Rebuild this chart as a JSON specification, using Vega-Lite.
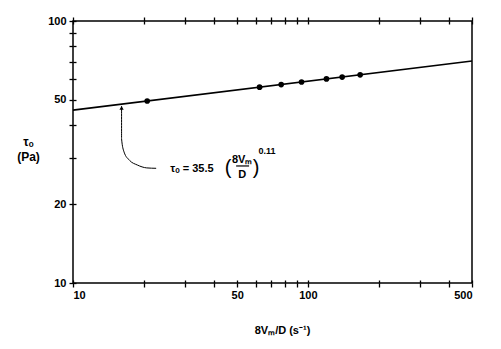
{
  "$schema": "https://vega.github.io/schema/vega-lite/v6.json",
  "width": 399,
  "height": 262,
  "autosize": "none",
  "padding": {"left": 73, "top": 21, "right": 29, "bottom": 66},
  "background": "white",
  "config": {
    "view": {"stroke": "black", "strokeWidth": 1.5},
    "axis": {"grid": false, "domain": false, "tickColor": "black", "tickWidth": 1.3, "labelFont": "Liberation Sans", "labelFontWeight": "bold", "labelFontSize": 11, "labelColor": "black", "titleFont": "Liberation Sans", "titleFontWeight": "bold", "titleColor": "black"},
    "text": {"font": "Liberation Sans", "fontWeight": "bold", "color": "black"}
  },
  "resolve": {"axis": {"x": "independent", "y": "independent"}},
  "layer": [
    {
      "data": {"values": [{"rate": 10, "tau": 45.7}, {"rate": 500, "tau": 70.4}]},
      "mark": {"type": "line", "color": "black", "strokeWidth": 1.6},
      "encoding": {
        "x": {"field": "rate", "type": "quantitative",
              "scale": {"type": "log", "domain": [10, 500], "nice": false},
              "axis": {"orient": "bottom", "values": [10,20,30,40,50,60,70,80,90,100,200,300,400,500], "tickSize": 4, "labelPadding": 2,
                       "labelExpr": "indexof([10,50,100,500], datum.value) >= 0 ? '' + datum.value : ''",
                       "title": "8Vₘ/D (s⁻¹)", "titleFontSize": 11, "titleX": 209, "titleY": 50, "titleAnchor": "middle", "titleAlign": "center", "titleBaseline": "alphabetic"}},
        "y": {"field": "tau", "type": "quantitative",
              "scale": {"type": "log", "domain": [10, 100], "nice": false},
              "axis": {"orient": "left", "values": [10,20,30,40,50,60,70,80,90,100], "tickSize": 4, "labelPadding": 3,
                       "labelExpr": "indexof([10,20,50,100], datum.value) >= 0 ? '' + datum.value : ''",
                       "title": ["τₒ", "(Pa)"], "titleFontSize": 12, "titleAngle": 0, "titleX": -45, "titleY": 115, "titleAlign": "center", "titleBaseline": "top", "titleLineHeight": 15}}
      }
    },
    {
      "data": {"values": [
        {"rate": 20.7, "tau": 49.5},
        {"rate": 62.3, "tau": 55.9},
        {"rate": 77, "tau": 57.2},
        {"rate": 94, "tau": 58.5},
        {"rate": 120, "tau": 60.1},
        {"rate": 140, "tau": 61.1},
        {"rate": 167, "tau": 62.3}
      ]},
      "mark": {"type": "point", "filled": true, "color": "black", "opacity": 1, "size": 32},
      "encoding": {
        "x": {"field": "rate", "type": "quantitative",
              "axis": {"orient": "top", "values": [10,20,30,40,50,60,70,80,90,100,200,300,400,500], "tickSize": 4, "labels": false, "title": null}},
        "y": {"field": "tau", "type": "quantitative",
              "axis": {"orient": "left", "values": [10,20,30,40,50,60,70,80,90,100], "tickSize": -3, "labels": false, "title": null}}
      }
    },
    {
      "data": {"values": [
        {"i": 1, "rate": 16.1, "tau": 47.4},
        {"i": 2, "rate": 16.1, "tau": 35.5},
        {"i": 3, "rate": 16.5, "tau": 31.6},
        {"i": 4, "rate": 17.4, "tau": 29.4},
        {"i": 5, "rate": 18.8, "tau": 28.2},
        {"i": 6, "rate": 20.6, "tau": 27.5},
        {"i": 7, "rate": 22.6, "tau": 27.4}
      ]},
      "mark": {"type": "line", "color": "black", "strokeWidth": 1, "interpolate": "monotone"},
      "encoding": {
        "x": {"field": "rate", "type": "quantitative",
              "axis": {"orient": "bottom", "values": [10,20,30,40,50,60,70,80,90,100,200,300,400,500], "tickSize": -3, "labels": false, "title": null}},
        "y": {"field": "tau", "type": "quantitative", "axis": null},
        "order": {"field": "i", "type": "quantitative"}
      }
    },
    {
      "data": {"values": [
        {"rate": 32.1, "tau": 27.35, "label": "τₒ = 35.5"},
        {"rate": 52.5, "tau": 29.5, "label": "8Vₘ"},
        {"rate": 52.5, "tau": 25.8, "label": "D"}
      ]},
      "mark": {"type": "text", "fontSize": 11, "align": "center", "baseline": "middle"},
      "encoding": {
        "x": {"field": "rate", "type": "quantitative",
              "axis": {"orient": "top", "values": [10,20,30,40,50,60,70,80,90,100,200,300,400,500], "tickSize": -3, "labels": false, "title": null}},
        "y": {"field": "tau", "type": "quantitative", "axis": null},
        "text": {"field": "label"}
      }
    },
    {
      "data": {"values": [{"rate": 16.1, "tau": 46.6}]},
      "mark": {"type": "point", "shape": "triangle-up", "filled": true, "color": "black", "opacity": 1, "size": 18},
      "encoding": {
        "x": {"field": "rate", "type": "quantitative", "axis": null},
        "y": {"field": "tau", "type": "quantitative", "axis": null}
      }
    },
    {
      "data": {"values": [{"rate": 49.5, "rate2": 56.2, "tau": 27.97}]},
      "mark": {"type": "rule", "color": "black", "strokeWidth": 1.2},
      "encoding": {
        "x": {"field": "rate", "type": "quantitative", "axis": null},
        "x2": {"field": "rate2"},
        "y": {"field": "tau", "type": "quantitative", "axis": null}
      }
    },
    {
      "data": {"values": [
        {"rate": 45.7, "tau": 27.5, "label": "("},
        {"rate": 60.2, "tau": 27.5, "label": ")"}
      ]},
      "mark": {"type": "text", "fontSize": 20, "fontWeight": "normal", "align": "center", "baseline": "middle"},
      "encoding": {
        "x": {"field": "rate", "type": "quantitative", "axis": null},
        "y": {"field": "tau", "type": "quantitative", "axis": null},
        "text": {"field": "label"}
      }
    },
    {
      "data": {"values": [{"rate": 67.0, "tau": 31.9, "label": "0.11"}]},
      "mark": {"type": "text", "fontSize": 9, "align": "center", "baseline": "middle"},
      "encoding": {
        "x": {"field": "rate", "type": "quantitative", "axis": null},
        "y": {"field": "tau", "type": "quantitative", "axis": null},
        "text": {"field": "label"}
      }
    }
  ]
}
